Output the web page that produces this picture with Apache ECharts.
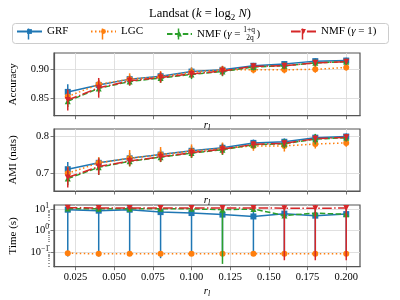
<!DOCTYPE html>
<html><head><meta charset="utf-8">
<script src="https://cdn.jsdelivr.net/npm/echarts@6/dist/echarts.min.js"></script>
<style>html,body{margin:0;padding:0;background:#fff}#c{width:400px;height:300px}</style>
</head><body><div id="c"></div>
<script>
// ---------- data ----------
const rl = [0.02, 0.04, 0.06, 0.08, 0.10, 0.12, 0.14, 0.16, 0.18, 0.20];
const xTicks = [0.025, 0.05, 0.075, 0.1, 0.125, 0.15, 0.175, 0.2];
const accTicks = [0.85, 0.90];
const amiTicks = [0.7, 0.8];
const timeTicks = [0.1, 1, 10];
const seriesNames = ['GRF', 'LGC', 'NMF (γ = (1+q)/2q)', 'NMF (γ = 1)'];

const accGRF    = [0.861, 0.873, 0.883, 0.888, 0.896, 0.899, 0.906, 0.909, 0.914, 0.915];
const accGRFErr = [0.013, 0.008, 0.007, 0.007, 0.007, 0.006, 0.005, 0.005, 0.005, 0.005];
const accLGC    = [0.853, 0.874, 0.883, 0.887, 0.895, 0.899, 0.899, 0.899, 0.900, 0.903];
const accLGCErr = [0.010, 0.008, 0.010, 0.010, 0.008, 0.007, 0.006, 0.006, 0.006, 0.005];
const accNMFq   = [0.845, 0.867, 0.879, 0.885, 0.891, 0.896, 0.904, 0.906, 0.911, 0.913];
const accNMFqErr= [0.010, 0.008, 0.007, 0.008, 0.008, 0.008, 0.006, 0.006, 0.006, 0.005];
const accNMF1   = [0.847, 0.868, 0.880, 0.886, 0.892, 0.897, 0.905, 0.906, 0.911, 0.913];
const accNMF1Err= [0.018, 0.017, 0.008, 0.009, 0.007, 0.008, 0.005, 0.005, 0.005, 0.005];

const amiGRF    = [0.711, 0.728, 0.740, 0.750, 0.760, 0.768, 0.781, 0.784, 0.795, 0.798];
const amiGRFErr = [0.019, 0.014, 0.014, 0.013, 0.013, 0.012, 0.009, 0.009, 0.009, 0.008];
const amiLGC    = [0.700, 0.728, 0.740, 0.750, 0.759, 0.766, 0.773, 0.773, 0.778, 0.781];
const amiLGCErr = [0.018, 0.015, 0.022, 0.020, 0.018, 0.016, 0.013, 0.015, 0.012, 0.010];
const amiNMFq   = [0.686, 0.716, 0.732, 0.743, 0.754, 0.763, 0.776, 0.779, 0.791, 0.795];
const amiNMFqErr= [0.018, 0.020, 0.013, 0.013, 0.013, 0.014, 0.010, 0.012, 0.014, 0.010];
const amiNMF1   = [0.689, 0.718, 0.733, 0.744, 0.755, 0.764, 0.777, 0.780, 0.792, 0.796];
const amiNMF1Err= [0.027, 0.022, 0.012, 0.013, 0.012, 0.013, 0.009, 0.009, 0.010, 0.009];

const timeGRF    = [9.3, 8.4, 9.3, 7.2, 6.5, 5.5, 4.5, 6.1, 4.9, 5.8];
const timeGRFErr = [9.24, 8.34, 9.22, 7.15, 6.42, 5.42, 4.42, 6.02, 4.82, 5.72];
const timeLGC    = [0.085, 0.080, 0.080, 0.080, 0.080, 0.080, 0.080, 0.080, 0.080, 0.080];
const timeLGCErr = [0.005, 0.004, 0.004, 0.004, 0.004, 0.004, 0.004, 0.004, 0.004, 0.004];
const timeNMFq   = [10.5, 10.2, 10.2, 10.3, 10.2, 9.4, 10.0, 5.0, 6.4, 5.7];
const timeNMFqErr= [1.0, 1.0, 1.0, 1.0, 1.0, 9.373, 1.0, 0.8, 0.8, 0.8];
const timeNMF1   = [11.5, 11.3, 11.2, 11.3, 11.2, 11.1, 11.3, 11.0, 11.0, 11.1];
const timeNMF1Err= [1.0, 1.0, 1.0, 1.0, 1.0, 1.0, 1.0, 10.96, 10.96, 11.06];

// ---------- style ----------
const colors = ['#1f77b4', '#ff7f0e', '#2ca02c', '#d62728'];
const dashes = ['solid', [1.5, 2.5], [5.5, 2.4], [9.6, 2.4, 1.5, 2.4]];
const symbols = ['rect', 'circle', 'triangle', 'triangle'];
const symRot = [0, 0, 0, 180];
const symSize = [6, 6, 6, 6];
const FONT = '"Liberation Serif", "DejaVu Serif", serif';
const frame = '#555';
const gridCol = '#dcdcdc';

const X_MIN = 0.0111, X_MAX = 0.2089;
const LOG_MIN = -1.70, LOG_MAX = 1.19;

const grids = [
  {left: 50, top: 53, width: 310, height: 62.7},
  {left: 50, top: 129, width: 310, height: 62},
  {left: 50, top: 205, width: 310, height: 61.7}
];
const legendLefts = [16, 90, 166, 290];
const LEG_Y = 34;

const rNameRich = {
  i: {fontFamily: FONT, fontStyle: 'italic', fontSize: 11, color: '#000', lineHeight: 14},
  s: {fontFamily: FONT, fontStyle: 'italic', fontSize: 8, color: '#000', verticalAlign: 'bottom', lineHeight: 9}
};

function xAxisFor(idx, showLabels, nameGap) {
  return {
    type: 'value', gridIndex: idx, min: X_MIN, max: X_MAX,
    name: '{i|r}{s|l}', nameLocation: 'middle', nameGap: nameGap,
    nameTextStyle: {rich: rNameRich},
    axisLine: {show: true, onZero: false, lineStyle: {color: frame, width: 1.2}},
    axisTick: {show: true, length: 3.5, lineStyle: {color: frame, width: 0.8}, customValues: xTicks},
    axisLabel: {show: showLabels, customValues: xTicks, fontFamily: FONT, fontSize: 10.5, color: '#000', margin: 5,
      formatter: v => v.toFixed(3)},
    splitLine: {show: true, lineStyle: {color: gridCol, width: 0.9}}
  };
}

const supRich = {
  b: {fontFamily: FONT, fontSize: 10.5, color: '#000', lineHeight: 14},
  p: {fontFamily: FONT, fontSize: 7.5, color: '#000', verticalAlign: 'top', lineHeight: 8}
};

function yAxisFor(idx, min, max, ticks, name, fmt, rich) {
  return {
    type: 'value', gridIndex: idx, min: min, max: max,
    name: name, nameLocation: 'middle', nameGap: 35, nameRotate: 90,
    nameTextStyle: {fontFamily: FONT, fontSize: 11, color: '#000'},
    axisLine: {show: true, onZero: false, lineStyle: {color: frame, width: 1.2}},
    axisTick: {show: true, length: 3.5, lineStyle: {color: frame, width: 0.8}, customValues: ticks},
    axisLabel: {show: true, customValues: ticks, fontFamily: FONT, fontSize: 10.5, color: '#000', margin: 5,
      formatter: fmt, rich: rich},
    splitLine: {show: true, lineStyle: {color: gridCol, width: 0.9}}
  };
}

const timeLogTicks = timeTicks.map(v => Math.log10(v));
const minorTicks = [];
for (let e = -2; e <= 1; e++) for (let k = 2; k <= 9; k++) {
  const lv = Math.log10(k * Math.pow(10, e));
  if (lv > LOG_MIN && lv < LOG_MAX) minorTicks.push(lv);
}

const xAxes = [xAxisFor(0, false, 2), xAxisFor(1, false, 2), xAxisFor(2, true, 17)];
const yAxes = [
  yAxisFor(0, 0.820, 0.928, accTicks, 'Accuracy', v => v.toFixed(2)),
  yAxisFor(1, 0.653, 0.818, amiTicks, 'AMI (nats)', v => v.toFixed(1)),
  yAxisFor(2, LOG_MIN, LOG_MAX, timeLogTicks, 'Time (s)', v => {
    const e = Math.round(v);
    return '{b|10}{p|' + (e < 0 ? '\u2212' + (-e) : e) + '}';
  }, supRich),
  {
    type: 'value', gridIndex: 2, min: LOG_MIN, max: LOG_MAX, position: 'right', offset: -310,
    axisLine: {show: false, onZero: false}, axisLabel: {show: false}, splitLine: {show: false},
    axisTick: {show: true, inside: true, length: 2, lineStyle: {color: frame, width: 0.6}, customValues: minorTicks}
  }
];

const panels = [
  {means: [accGRF, accLGC, accNMFq, accNMF1], errs: [accGRFErr, accLGCErr, accNMFqErr, accNMF1Err], log: false, lo: 0.820, hi: 0.928},
  {means: [amiGRF, amiLGC, amiNMFq, amiNMF1], errs: [amiGRFErr, amiLGCErr, amiNMFqErr, amiNMF1Err], log: false, lo: 0.653, hi: 0.818},
  {means: [timeGRF, timeLGC, timeNMFq, timeNMF1], errs: [timeGRFErr, timeLGCErr, timeNMFqErr, timeNMF1Err], log: true, lo: LOG_MIN, hi: LOG_MAX}
];

function errRender(color) {
  return function (params, api) {
    const p1 = api.coord([api.value(0), api.value(1)]);
    const p2 = api.coord([api.value(0), api.value(2)]);
    return {type: 'line', shape: {x1: p1[0], y1: p1[1], x2: p2[0], y2: p2[1]},
      style: {stroke: color, lineWidth: 1.5}};
  };
}

const lineSeries = [], errSeries = [];
panels.forEach((p, pi) => {
  for (let s = 0; s < 4; s++) {
    const tf = v => p.log ? Math.log10(v) : v;
    const errData = rl.map((x, i) => {
      const m = p.means[s][i], e = p.errs[s][i];
      let lo = tf(Math.max(m - e, 1e-9)), hi = tf(m + e);
      lo = Math.max(lo, p.lo); hi = Math.min(hi, p.hi);
      return [x, lo, hi];
    });
    errSeries.push({
      type: 'custom', name: seriesNames[s], xAxisIndex: pi, yAxisIndex: pi,
      data: errData, renderItem: errRender(colors[s]), itemStyle: {color: colors[s]},
      z: 2 + s * 2, silent: true
    });
    lineSeries.push({
      type: 'line', name: seriesNames[s], xAxisIndex: pi, yAxisIndex: pi,
      data: rl.map((x, i) => [x, tf(p.means[s][i])]),
      symbol: symbols[s], symbolRotate: symRot[s], symbolSize: symSize[s], showSymbol: true,
      itemStyle: {color: colors[s]},
      lineStyle: {color: colors[s], width: 1.5, type: dashes[s]},
      z: 3 + s * 2
    });
  }
});

const legendRich = {
  n: {fontFamily: FONT, fontSize: 11, color: '#000', lineHeight: 16},
  g: {fontFamily: FONT, fontStyle: 'italic', fontSize: 11, color: '#000', lineHeight: 16},
  num: {fontFamily: FONT, fontSize: 7.5, color: '#000', width: 0.1, align: 'left', verticalAlign: 'top', lineHeight: 9},
  den: {fontFamily: FONT, fontSize: 7.5, color: '#000', width: 13, align: 'center', verticalAlign: 'bottom', lineHeight: 9}
};

const legends = seriesNames.map((nm, i) => ({
  left: legendLefts[i], top: LEG_Y - 8, padding: 0,
  itemGap: 0, itemWidth: 25, itemHeight: 6,
  data: [nm],
  formatter: name => {
    if (name === seriesNames[2]) return '{n|NMF (}{g|γ}{n| = }{num|1+q}{den|2q}{n|)}';
    if (name === seriesNames[3]) return '{n|NMF (}{g|γ}{n| = 1)}';
    return '{n|' + name + '}';
  },
  textStyle: {rich: legendRich}
}));

const graphics = [
  {type: 'rect', left: 12, top: 23, shape: {width: 376, height: 20, r: 3},
   style: {fill: 'rgba(255,255,255,0.8)', stroke: '#cccccc', lineWidth: 1}, z: 1}
].concat(legendLefts.map((lx, i) => ({
  type: 'line', shape: {x1: lx + 12.5, y1: LEG_Y - 5.5, x2: lx + 12.5, y2: LEG_Y + 5.5},
  style: {stroke: colors[i], lineWidth: 1.5}, z: 5
})));

const option = {
  animation: false,
  backgroundColor: '#fff',
  title: {
    text: '{n|Landsat (}{i|k}{n| = log}{s|2}{i| N}{n|)}',
    left: 'center', top: 1,
    textStyle: {fontWeight: 'normal', rich: {
      n: {fontFamily: FONT, fontWeight: 'normal', fontSize: 12.5, color: '#000', lineHeight: 16},
      i: {fontFamily: FONT, fontWeight: 'normal', fontStyle: 'italic', fontSize: 12.5, color: '#000', lineHeight: 16},
      s: {fontFamily: FONT, fontWeight: 'normal', fontSize: 9, color: '#000', verticalAlign: 'bottom', lineHeight: 10}
    }}
  },
  legend: legends,
  graphic: graphics,
  grid: grids.map(g => Object.assign({show: true, borderColor: frame, borderWidth: 1.2, backgroundColor: 'transparent'}, g)),
  xAxis: xAxes,
  yAxis: yAxes,
  series: lineSeries.concat(errSeries)
};

const chart = echarts.init(document.getElementById('c'), null, {renderer: 'canvas'});
chart.setOption(option);
</script>
</body></html>
